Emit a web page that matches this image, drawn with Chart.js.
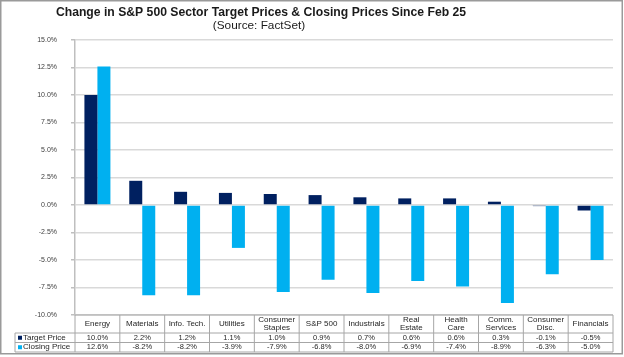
<!DOCTYPE html>
<html><head><meta charset="utf-8">
<script src="https://cdn.jsdelivr.net/npm/chart.js@4"></script>
<style>html,body{margin:0;padding:0;background:#fff}#wrap{width:624px;height:357px}</style>
</head><body><div id="wrap"><canvas id="c" width="624" height="357"></canvas></div>
<script>
const titleText = 'Change in S&P 500 Sector Target Prices & Closing Prices Since Feb 25';
const subtitleText = '(Source: FactSet)';
const categories = [['Energy'],['Materials'],['Info. Tech.'],['Utilities'],['Consumer','Staples'],['S&P 500'],['Industrials'],['Real','Estate'],['Health','Care'],['Comm.','Services'],['Consumer','Disc.'],['Financials']];
const seriesNames = ['Target Price','Closing Price'];
const targetPrice = [10.0, 2.2, 1.2, 1.1, 1.0, 0.9, 0.7, 0.6, 0.6, 0.3, -0.1, -0.5];
const closingPrice = [12.6, -8.2, -8.2, -3.9, -7.9, -6.8, -8.0, -6.9, -7.4, -8.9, -6.3, -5.0];
const colors = ['#002060', '#00B0F0'];
const FONT = '"Liberation Sans", Arial, sans-serif';

const framePlugin = {
  id: 'frame',
  beforeDraw(chart) {
    const ctx = chart.ctx;
    ctx.save();
    ctx.fillStyle = '#fff';
    ctx.fillRect(0, 0, chart.width, chart.height);
    ctx.strokeStyle = '#9a9a9a';
    ctx.lineWidth = 1.5;
    ctx.strokeRect(0.75, 0.75, 621.5, 353);
    ctx.fillStyle = '#1a1a1a';
    ctx.textAlign = 'center';
    ctx.textBaseline = 'middle';
    ctx.font = 'bold 12.2px ' + FONT;
    ctx.fillText(titleText, 261, 12.5);
    ctx.font = '11.8px ' + FONT;
    ctx.fillText(subtitleText, 259, 26);
    ctx.restore();
  }
};

const tablePlugin = {
  id: 'datatable',
  afterDraw(chart) {
    const ctx = chart.ctx;
    const xs = chart.scales.x;
    const ca = chart.chartArea;
    const n = categories.length;
    const w = (ca.right - ca.left) / n;
    const y0 = ca.bottom, y1 = y0 + 18, y2 = y1 + 9.5, y3 = y2 + 9.5;
    const legL = 15;
    ctx.save();
    ctx.strokeStyle = '#a6a6a6';
    ctx.lineWidth = 1;
    const hl = (x0, x1, y) => { ctx.beginPath(); ctx.moveTo(x0, y); ctx.lineTo(x1, y); ctx.stroke(); };
    const vl = (x, ya, yb) => { ctx.beginPath(); ctx.moveTo(x, ya); ctx.lineTo(x, yb); ctx.stroke(); };
    hl(ca.left, ca.right, y0);
    hl(legL, ca.right, y1);
    hl(legL, ca.right, y2);
    hl(legL, ca.right, y3);
    vl(legL, y1, y3);
    vl(ca.left, y0, y3);
    for (let i = 0; i < n; i++) {
      const xr = xs.getPixelForValue(i) + w / 2;
      vl(xr, y0, y3);
    }
    ctx.fillStyle = '#262626';
    ctx.textAlign = 'center';
    ctx.textBaseline = 'middle';
    const rows = [targetPrice, closingPrice];
    for (let i = 0; i < n; i++) {
      const cx = xs.getPixelForValue(i);
      ctx.font = '8px ' + FONT;
      const lab = categories[i];
      if (lab.length === 1) ctx.fillText(lab[0], cx, (y0 + y1) / 2);
      else { ctx.fillText(lab[0], cx, y0 + 5); ctx.fillText(lab[1], cx, y0 + 13); }
      ctx.font = '7.5px ' + FONT;
      ctx.fillText(rows[0][i].toFixed(1) + '%', cx, (y1 + y2) / 2);
      ctx.fillText(rows[1][i].toFixed(1) + '%', cx, (y2 + y3) / 2);
    }
    ctx.textAlign = 'left';
    ctx.font = '8px ' + FONT;
    [y1, y2].forEach((yy, k) => {
      const cy = yy + 4.75;
      ctx.fillStyle = colors[k];
      ctx.fillRect(legL + 3, cy - 2, 4, 4);
      ctx.fillStyle = '#262626';
      ctx.fillText(seriesNames[k], legL + 8, cy);
    });
    ctx.restore();
  }
};

new Chart(document.getElementById('c'), {
  type: 'bar',
  data: {
    labels: categories.map(c => c.join(' ')),
    datasets: [
      { label: seriesNames[0], data: targetPrice, backgroundColor: colors[0], categoryPercentage: 0.58, barPercentage: 1.0 },
      { label: seriesNames[1], data: closingPrice, backgroundColor: colors[1], categoryPercentage: 0.58, barPercentage: 1.0 }
    ]
  },
  options: {
    responsive: false,
    animation: false,
    devicePixelRatio: 1,
    layout: { padding: { left: 0, right: 11, top: 40, bottom: 42 } },
    plugins: { legend: { display: false }, title: { display: false }, tooltip: { enabled: false } },
    scales: {
      x: {
        display: true,
        ticks: { display: false },
        grid: { display: false, drawTicks: false },
        border: { display: false },
        afterFit(s) { s.height = 0; }
      },
      y: {
        min: -10, max: 15,
        ticks: { stepSize: 2.5, padding: 14, color: '#404040', font: { family: FONT, size: 7 },
          callback: v => v.toFixed(1) + '%' },
        grid: { color: '#d9d9d9', lineWidth: 1.5, tickLength: 4, tickColor: '#bfbfbf' },
        border: { display: true, color: '#bfbfbf', width: 1.5 },
        afterFit(s) { s.width = 75; }
      }
    }
  },
  plugins: [framePlugin, tablePlugin]
});
</script>
</body></html>
